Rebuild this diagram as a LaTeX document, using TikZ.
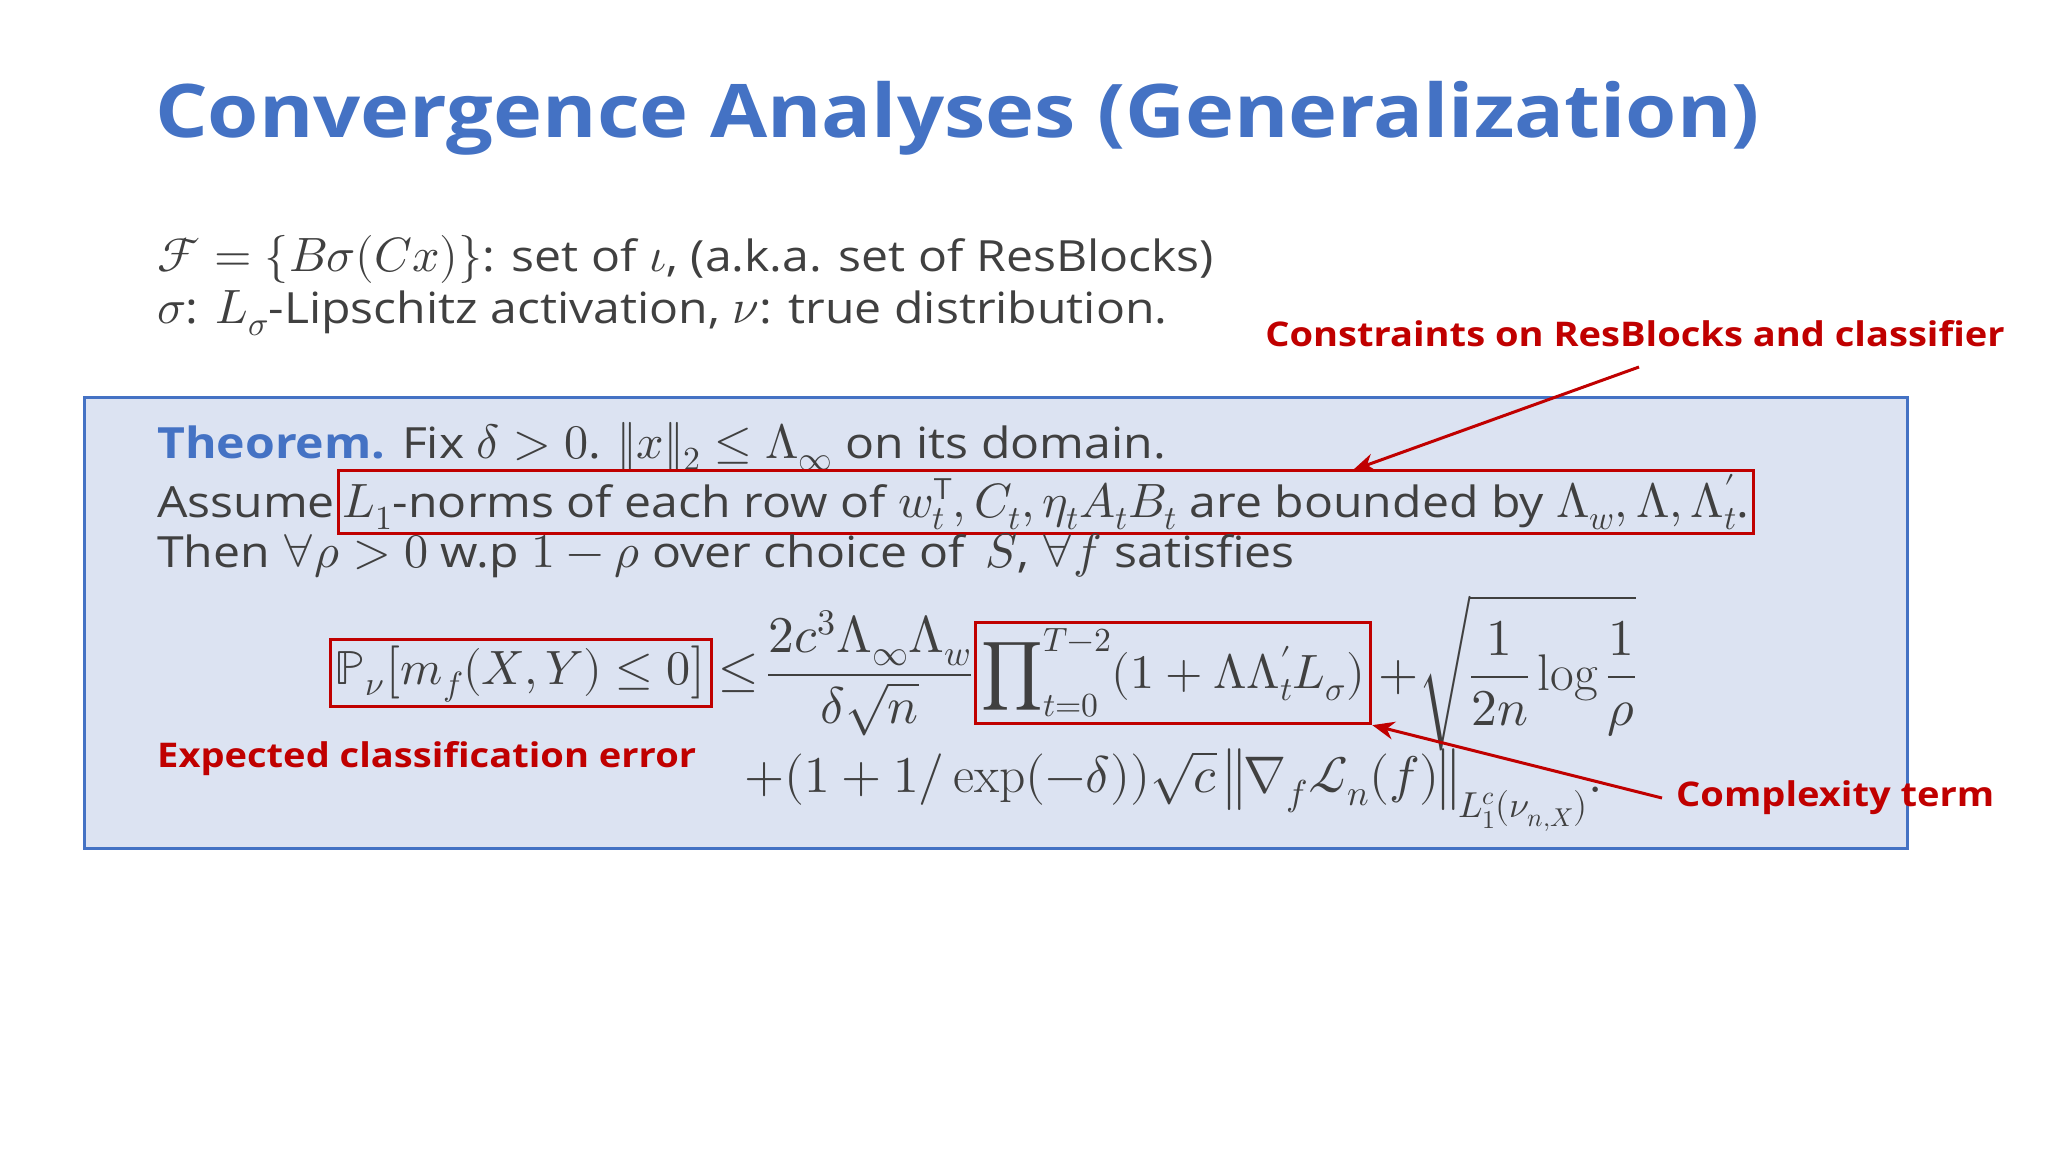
\documentclass[tikz,border=0pt]{standalone}
\usepackage{amsmath}
\usepackage{unicode-math}
\setmainfont[FakeStretch=1.12]{Open Sans}
\setmathfont[Scale=1.12]{Latin Modern Math}
\setmathrm[Scale=1.12]{Latin Modern Roman}
\definecolor{tblue}{HTML}{4472C4}
\definecolor{boxfill}{HTML}{DCE3F2}
\definecolor{redc}{HTML}{C00000}
\definecolor{txt}{HTML}{404040}
\usetikzlibrary{arrows.meta}
\tikzset{
  body/.style={anchor=west,inner sep=0pt,text=txt,font=\fontsize{43}{50}\selectfont},
  redbox/.style={draw=redc,line width=3pt,inner sep=4pt,text=txt,font=\fontsize{43}{50}\selectfont},
  eq/.style={inner sep=0pt,text=txt,font=\fontsize{46}{52}\selectfont},
  lab/.style={text=redc,font=\fontsize{34}{40}\selectfont\bfseries,inner sep=0pt},
  arr/.style={draw=redc,line width=3pt,-{Stealth[length=22pt,width=18pt]}}
}
\begin{document}
\begin{tikzpicture}[x=1pt,y=-1pt]
\useasboundingbox[fill=white] (0,0) rectangle (2048,1152);
\node[anchor=west,inner sep=0pt,text=tblue,font=\fontsize{74}{84}\selectfont\bfseries] (title) at (155,118) {Convergence Analyses (Generalization)};
\node[body] (l1) at (157,259) {$\mathcal{F}=\{B\sigma(Cx)\}$: set of $\iota$, (a.k.a. set of ResBlocks)};
\node[body] (l2) at (157,313) {$\sigma$: $L_\sigma$-Lipschitz activation, $\nu$: true distribution.};
\draw[fill=boxfill,draw=tblue,line width=3pt] (84,397) rectangle (1907,848);
\node[body] (th) at (157,447) {\textcolor{tblue}{\bfseries Theorem.} Fix $\delta>0$. $\|x\|_2\le\Lambda_\infty$ on its domain.};
\node[body] (as) at (157,502) {Assume};
\node[redbox,anchor=west] (asb) at ([xshift=2pt]as.east) {$L_1$-norms of each row of $w_t^{\mathsf T}, C_t, \eta_t A_t B_t$ are bounded by $\Lambda_w, \Lambda, \Lambda'_t$.};
\node[body] (then) at (157,556) {Then $\forall\rho>0$ w.p $1-\rho$ over choice of \,$S$, $\forall f$ satisfies};
\node[redbox,anchor=west] (lhs) at (329,673) {$\mathbb{P}_\nu\bigl[m_f(X,Y)\le 0\bigr]$};
\node[eq,anchor=west] (le) at ([xshift=6pt]lhs.east) {$\le$};
\node[eq,anchor=west] (frac) at ([xshift=8pt]le.east) {$\displaystyle\frac{2c^3\Lambda_\infty\Lambda_w}{\delta\sqrt{n}}$};
\node[redbox,anchor=west,inner sep=6pt] (prod) at ([xshift=2pt]frac.east) {$\displaystyle\prod\nolimits_{t=0}^{T-2}(1+\Lambda\Lambda'_tL_\sigma)$};
\node[eq,anchor=west] (rest) at ([xshift=6pt]prod.east) {$\displaystyle+\sqrt{\frac{1}{2n}\log\frac{1}{\rho}}$};
\node[eq,anchor=west] (l2eq) at (744,790) {$+(1+1/\exp(-\delta))\sqrt{c}\,\bigl\|\nabla_f\mathcal{L}_n(f)\bigr\|_{L_1^c(\nu_{n,X})}.$};
\node[lab,anchor=east] (c1) at (2005,334) {Constraints on ResBlocks and classifier};
\node[lab,anchor=west] (c2) at (157,759) {Expected classification error};
\node[lab,anchor=west] (c3) at (1676,798) {Complexity term};
\coordinate (a1) at (1639,367);
\draw[arr] (a1) -- (1353,470);
\draw[arr] ([xshift=-14pt]c3.west) -- (prod.south east);
\end{tikzpicture}
\end{document}
